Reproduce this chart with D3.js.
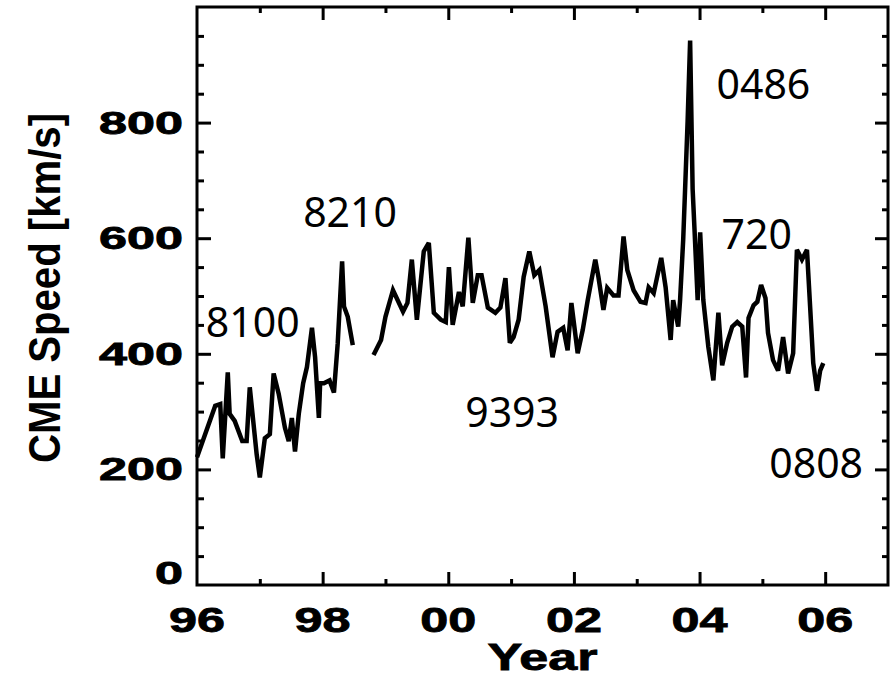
<!DOCTYPE html>
<html><head><meta charset="utf-8">
<script src="https://cdn.jsdelivr.net/npm/d3@7"></script>
<style>html,body{margin:0;padding:0;background:#fff;}svg{display:block;}</style>
</head><body>
<svg id="chart" width="891" height="678"></svg>
<script>
// Segment 1 (1996 - mid 1998)
const years1 = [1996.00,1996.29,1996.37,1996.41,1996.49,1996.52,1996.60,1996.72,1996.79,1996.84,1996.95,1997.00,1997.08,1997.16,1997.22,1997.30,1997.40,1997.46,1997.51,1997.56,1997.62,1997.69,1997.75,1997.83,1997.88,1997.94,1997.96,1998.02,1998.11,1998.18,1998.24,1998.31,1998.34,1998.40,1998.48];
const speeds1 = [221,310,313,219,368,296,284,249,249,342,226,186,254,261,366,331,272,249,289,231,296,349,377,445,394,289,349,349,354,333,418,560,482,464,415];
// Segment 2 (late 1998 - end 2005)
const years2 = [1998.81,1998.93,1999.00,1999.12,1999.28,1999.35,1999.42,1999.50,1999.61,1999.69,1999.77,1999.88,1999.96,2000.01,2000.07,2000.17,2000.23,2000.32,2000.39,2000.47,2000.53,2000.63,2000.75,2000.83,2000.91,2000.98,2001.04,2001.12,2001.20,2001.29,2001.37,2001.45,2001.55,2001.66,2001.74,2001.83,2001.90,2001.96,2002.06,2002.14,2002.22,2002.34,2002.39,2002.47,2002.53,2002.63,2002.71,2002.79,2002.85,2002.95,2003.06,2003.14,2003.19,2003.27,2003.39,2003.46,2003.54,2003.58,2003.66,2003.69,2003.74,2003.77,2003.81,2003.85,2003.89,2003.92,2003.97,2004.01,2004.06,2004.14,2004.22,2004.30,2004.36,2004.44,2004.52,2004.60,2004.68,2004.74,2004.78,2004.86,2004.92,2004.98,2005.05,2005.09,2005.17,2005.25,2005.33,2005.41,2005.49,2005.55,2005.63,2005.71,2005.76,2005.81,2005.87,2005.92,2005.97];
const speeds2 = [398,424,464,510,473,488,563,459,577,592,471,459,455,550,450,507,482,601,488,536,536,480,471,480,531,419,429,459,533,577,536,545,482,394,438,445,406,488,401,441,493,563,533,476,514,501,501,603,545,510,490,488,515,505,566,515,424,493,447,493,598,685,802,942,685,615,493,610,493,412,354,471,380,419,447,455,447,359,462,484,490,519,496,436,389,371,429,366,401,580,563,580,482,384,336,371,384];

const xTickYears = [1996,1998,2000,2002,2004,2006];
const xTickLabels = ["96","98","00","02","04","06"];
const yTickValues = [0,200,400,600,800];
const yTickLabels = ["0","200","400","600","800"];

const annotations = ["8100","8210","9393","0486","720","0808"];
const annoYears = [1996.14,1997.69,2000.27,2004.27,2004.35,2005.11];
const annoSpeeds = [429,620,274,841,581,185];

const xTitle = "Year";
const yTitle = "CME Speed [km/s]";

const svg = d3.select("#chart");
const L = 197, R = 888, T = 7, B = 585;
const x = d3.scaleLinear().domain([1996, 2007]).range([L, R]);
const y = d3.scaleLinear().domain([0, 1000]).range([B, T]);

// data lines
const line = d3.line().x(d => x(d[0])).y(d => y(d[1]));
[[years1, speeds1],[years2, speeds2]].forEach(([ys, vs]) => {
  svg.append("path")
    .datum(ys.map((yr, i) => [yr, vs[i]]))
    .attr("d", line)
    .attr("fill", "none")
    .attr("stroke", "#000")
    .attr("stroke-width", 4.5)
    .attr("stroke-linejoin", "miter")
    .attr("stroke-miterlimit", 3);
});

// axes with inward ticks
const xMinor = d3.range(1997, 2007, 2);
const yMinor = d3.range(50, 1000, 50).filter(v => v % 200 !== 0);
const yMajor = d3.range(200, 1000, 200);

function addAxis(axis, tx, ty) {
  svg.append("g").attr("transform", `translate(${tx},${ty})`).call(axis);
}
addAxis(d3.axisBottom(x).tickValues(xTickYears.slice(1)).tickSize(-13).tickFormat(""), 0, B);
addAxis(d3.axisBottom(x).tickValues(xMinor).tickSize(-6).tickFormat(""), 0, B);
addAxis(d3.axisTop(x).tickValues(xTickYears.slice(1)).tickSize(-13).tickFormat(""), 0, T);
addAxis(d3.axisTop(x).tickValues(xMinor).tickSize(-6).tickFormat(""), 0, T);
addAxis(d3.axisLeft(y).tickValues(yMajor).tickSize(-14).tickFormat(""), L, 0);
addAxis(d3.axisLeft(y).tickValues(yMinor).tickSize(-7).tickFormat(""), L, 0);
addAxis(d3.axisRight(y).tickValues(yMajor).tickSize(-13).tickFormat(""), R, 0);
addAxis(d3.axisRight(y).tickValues(yMinor).tickSize(-6).tickFormat(""), R, 0);

svg.selectAll(".domain").remove();
svg.selectAll(".tick line").attr("stroke", "#000").attr("stroke-width", 3);

// frame
svg.append("rect").attr("x", L).attr("y", T).attr("width", R - L).attr("height", B - T)
  .attr("fill", "none").attr("stroke", "#000").attr("stroke-width", 3);

const boldFont = "'Liberation Sans', Arial, sans-serif";

// x tick labels
svg.append("g").selectAll("text").data(xTickYears).join("text")
  .attr("x", d => x(d)).attr("y", 632)
  .attr("text-anchor", "middle")
  .attr("font-family", boldFont).attr("font-weight", "bold").attr("font-size", 35)
  .attr("textLength", 56).attr("lengthAdjust", "spacingAndGlyphs")
  .attr("stroke", "#000").attr("stroke-width", 0.8)
  .text((d, i) => xTickLabels[i]);

// y tick labels
svg.append("g").selectAll("text").data(yTickValues).join("text")
  .attr("x", 183).attr("y", d => d === 0 ? y(d) - 1 : y(d) + 11)
  .attr("text-anchor", "end")
  .attr("font-family", boldFont).attr("font-weight", "bold").attr("font-size", 31)
  .attr("textLength", (d, i) => yTickLabels[i].length * 28).attr("lengthAdjust", "spacingAndGlyphs")
  .attr("stroke", "#000").attr("stroke-width", 0.8)
  .text((d, i) => yTickLabels[i]);

// axis titles
svg.append("text").attr("x", (L + R) / 2).attr("y", 670)
  .attr("text-anchor", "middle")
  .attr("font-family", boldFont).attr("font-weight", "bold").attr("font-size", 36)
  .attr("textLength", 110).attr("lengthAdjust", "spacingAndGlyphs")
  .attr("stroke", "#000").attr("stroke-width", 0.8)
  .text(xTitle);

svg.append("text").attr("transform", `translate(60,288) rotate(-90)`)
  .attr("text-anchor", "middle")
  .attr("font-family", boldFont).attr("font-weight", "bold").attr("font-size", 44)
  .attr("textLength", 350).attr("lengthAdjust", "spacingAndGlyphs")
  .text(yTitle);

// annotations
svg.append("g").selectAll("text").data(annotations).join("text")
  .attr("x", (d, i) => x(annoYears[i])).attr("y", (d, i) => y(annoSpeeds[i]))
  .attr("font-family", "'Noto Sans', 'Open Sans', sans-serif").attr("font-size", 41)
  .attr("fill", "#000")
  .text(d => d);
</script>
</body></html>
